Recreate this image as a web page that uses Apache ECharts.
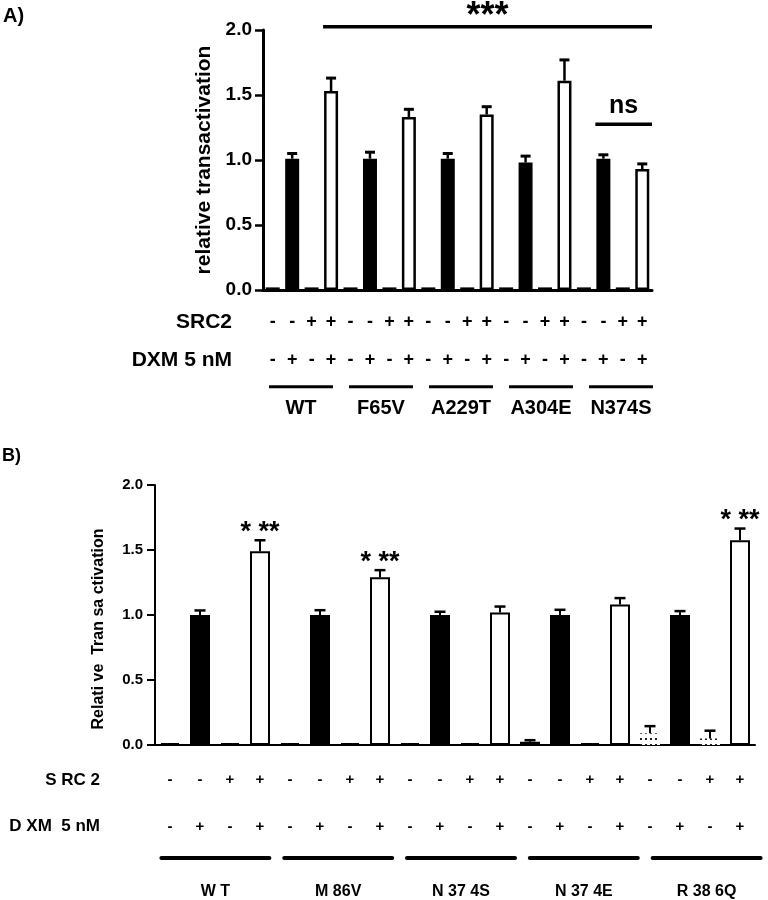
<!DOCTYPE html>
<html><head><meta charset="utf-8">
<script src="https://cdn.jsdelivr.net/npm/echarts@6/dist/echarts.min.js"></script>
<style>html,body{margin:0;padding:0;background:#fff}#c{width:768px;height:900px}</style>
</head><body><div id="c"></div>
<script>
// ---------- data ----------
const groupsA = ['WT', 'F65V', 'A229T', 'A304E', 'N374S'];
const groupsB = ['W T', 'M 86V', 'N 37 4S', 'N 37 4E', 'R 38 6Q'];
const conditions = ['SRC2- DXM-', 'SRC2- DXM+', 'SRC2+ DXM-', 'SRC2+ DXM+'];
const src2Signs = ['-','-','+','+', '-','-','+','+', '-','-','+','+', '-','-','+','+', '-','-','+','+'];
const dxmSigns  = ['-','+','-','+', '-','+','-','+', '-','+','-','+', '-','+','-','+', '-','+','-','+'];
const yTickLabels = ['0.0', '0.5', '1.0', '1.5', '2.0'];

const valuesA = [0.02, 1.01, 0.02, 1.53,  0.02, 1.01, 0.02, 1.33,  0.02, 1.01, 0.02, 1.35,  0.02, 0.98, 0.02, 1.61,  0.02, 1.01, 0.02, 0.93];
const errA    = [0,    0.04, 0,    0.10,  0,    0.05, 0,    0.06,  0,    0.04, 0,    0.06,  0,    0.05, 0,    0.16,  0,    0.03, 0,    0.04];
const sigA = [
  { text: '***', from: 3,  to: 19, level: 2.025 },
  { text: 'ns',  from: 17, to: 19, level: 1.275 }
];

const valuesB = [0.015, 1.00, 0.015, 1.49,  0.015, 1.00, 0.015, 1.29,  0.015, 1.00, 0.015, 1.02,  0.025, 1.00, 0.015, 1.08,  0.09, 1.00, 0.05, 1.575];
const errB    = [0,     0.035, 0,    0.085, 0,     0.037, 0,    0.055, 0,     0.025, 0,    0.045, 0.012, 0.04, 0,     0.05,  0.055, 0.03, 0.06, 0.09];
const sigB    = ['', '', '', '* **',  '', '', '', '* **',  '', '', '', '',  '', '', '', '',  '', '', '', '* **'];

// ---------- derived ----------
const catsA = groupsA.flatMap(g => conditions.map(c => g + ' ' + c));
const catsB = groupsB.flatMap(g => conditions.map(c => g + ' ' + c));
const FONT = 'Liberation Sans, Arial, Helvetica, sans-serif';
const dottedB = [16, 18];

function barData(vals, bw, dotted) {
  return vals.map((v, i) => {
    let st;
    if (dotted && dotted.indexOf(i) >= 0) st = { color: '#fff', borderWidth: 0,
      decal: { symbol: 'rect', symbolSize: 1, color: '#222', backgroundColor: '#fff', dashArrayX: [2, 3], dashArrayY: [2, 4] } };
    else if (i % 4 === 1) st = { color: '#000', borderColor: '#000', borderWidth: bw };
    else st = { color: '#fff', borderColor: '#000', borderWidth: bw };
    return { value: v, itemStyle: st };
  });
}

function errRender(capW, lw, sigs, sigFont, sigGap) {
  return function (params, api) {
    const x = api.value(0), v = api.value(1), e = api.value(2);
    const p0 = api.coord([x, v]);
    const p1 = api.coord([x, v + e]);
    const ch = [];
    if (e > 0) {
      ch.push({ type: 'line', shape: { x1: p0[0], y1: p0[1], x2: p1[0], y2: p1[1] }, style: { stroke: '#000', lineWidth: lw } });
      ch.push({ type: 'line', shape: { x1: p1[0] - capW / 2, y1: p1[1], x2: p1[0] + capW / 2, y2: p1[1] }, style: { stroke: '#000', lineWidth: lw + 0.5 } });
    }
    const s = sigs ? sigs[params.dataIndex] : '';
    if (s) {
      ch.push({ type: 'text', style: { text: s, x: p1[0], y: p1[1] - sigGap, align: 'center', verticalAlign: 'middle', font: 'bold ' + sigFont + 'px ' + FONT, fill: '#000' } });
    }
    return { type: 'group', children: ch };
  };
}

const signAxis = (grid, data, offset, name, nameGap, fs, nfs) => ({
  type: 'category', gridIndex: grid, data: data, position: 'bottom', offset: offset,
  axisLine: { show: false }, axisTick: { show: false },
  axisLabel: { interval: 0, margin: 0, verticalAlign: 'middle', fontSize: fs, fontWeight: 'bold', color: '#000', fontFamily: FONT },
  name: name, nameLocation: 'start', nameGap: nameGap,
  nameTextStyle: { fontSize: nfs, fontWeight: 'bold', color: '#000', fontFamily: FONT, verticalAlign: 'middle' }
});

const chart = echarts.init(document.getElementById('c'), null, { renderer: 'canvas' });
const option = {
  animation: false,
  backgroundColor: '#fff',
  textStyle: { fontFamily: FONT },
  grid: [
    { left: 263, top: 30, width: 389, height: 260 },
    { left: 155, top: 485, width: 600, height: 260 },
    { left: 261, top: 30, width: 400, height: 260 },
    { left: 154, top: 485, width: 620, height: 260 }
  ],
  xAxis: [
    { type: 'category', gridIndex: 0, data: catsA,
      axisLine: { lineStyle: { color: '#000', width: 3 } },
      axisTick: { alignWithLabel: true, interval: 0, length: 9, lineStyle: { color: '#000', width: 2.5 } },
      axisLabel: { show: false } },
    signAxis(0, src2Signs, 32, 'SRC2', 31, 18, 21),
    signAxis(0, dxmSigns, 70, 'DXM 5 nM', 31, 18, 21),
    { type: 'category', gridIndex: 2, data: groupsA, position: 'bottom', offset: 118,
      axisLine: { show: false }, axisTick: { show: false },
      axisLabel: { interval: 0, margin: 0, verticalAlign: 'middle', fontSize: 20, fontWeight: 'bold', color: '#000', fontFamily: FONT } },
    { type: 'category', gridIndex: 1, data: catsB,
      axisLine: { lineStyle: { color: '#000', width: 2 } },
      axisTick: { alignWithLabel: true, interval: 0, length: 8, lineStyle: { color: '#000', width: 2 } },
      axisLabel: { show: false } },
    signAxis(1, src2Signs, 35, 'S RC 2', 55, 15, 17),
    signAxis(1, dxmSigns, 81.5, 'D XM  5 nM', 55, 15, 17),
    { type: 'category', gridIndex: 3, data: groupsB, position: 'bottom', offset: 146.5,
      axisLine: { show: false }, axisTick: { show: false },
      axisLabel: { interval: 0, margin: 0, verticalAlign: 'middle', fontSize: 16, fontWeight: 'bold', color: '#000', fontFamily: FONT } }
  ],
  yAxis: [
    { type: 'value', gridIndex: 0, min: 0, max: 2, interval: 0.5,
      axisLine: { show: true, lineStyle: { color: '#000', width: 3 } },
      axisTick: { show: true, length: 8, lineStyle: { color: '#000', width: 2.5 } },
      splitLine: { show: false },
      axisLabel: { margin: 11, fontSize: 19, fontWeight: 'bold', color: '#000', fontFamily: FONT, formatter: (v) => yTickLabels[Math.round(v / 0.5)] },
      name: 'relative transactivation', nameLocation: 'middle', nameGap: 44,
      nameTextStyle: { fontSize: 21, fontWeight: 'bold', color: '#000', fontFamily: FONT } },
    { type: 'value', gridIndex: 1, min: 0, max: 2, interval: 0.5,
      axisLine: { show: true, lineStyle: { color: '#000', width: 2 } },
      axisTick: { show: true, length: 8, lineStyle: { color: '#000', width: 2 } },
      splitLine: { show: false },
      axisLabel: { margin: 12, fontSize: 15, fontWeight: 'bold', color: '#000', fontFamily: FONT, formatter: (v) => yTickLabels[Math.round(v / 0.5)] },
      name: 'Relati ve  Tran sa ctivation', nameLocation: 'middle', nameGap: 48,
      nameTextStyle: { fontSize: 16, fontWeight: 'bold', color: '#000', fontFamily: FONT, padding: [0, 28, 0, 0] } },
    { type: 'value', gridIndex: 2, show: false, min: 0, max: 2 },
    { type: 'value', gridIndex: 3, show: false, min: 0, max: 2 }
  ],
  series: [
    { type: 'bar', xAxisIndex: 0, yAxisIndex: 0, barWidth: 14, data: barData(valuesA, 2.5, null), z: 2 },
    { type: 'custom', xAxisIndex: 0, yAxisIndex: 0, z: 3,
      data: valuesA.map((v, i) => [i, v, errA[i]]),
      renderItem: errRender(10, 2.5, null, 0, 0) },
    { type: 'bar', xAxisIndex: 4, yAxisIndex: 1, barWidth: 20, data: barData(valuesB, 2, dottedB), z: 2 },
    { type: 'custom', xAxisIndex: 4, yAxisIndex: 1, z: 3,
      data: valuesB.map((v, i) => [i, v, errB[i]]),
      renderItem: errRender(11, 2, sigB, 27, 8) }
  ]
};
chart.setOption(option);

// ---------- annotations positioned through the axes ----------
const gfx = [];
gfx.push({ type: 'text', left: 3, top: 6, style: { text: 'A)', font: 'bold 20px ' + FONT, fill: '#000' } });
gfx.push({ type: 'text', left: 2, top: 447, style: { text: 'B)', font: 'bold 18px ' + FONT, fill: '#000' } });

const bandA = chart.convertToPixel({ xAxisIndex: 0 }, catsA[1]) - chart.convertToPixel({ xAxisIndex: 0 }, catsA[0]);
sigA.forEach(s => {
  const x1 = chart.convertToPixel({ xAxisIndex: 0 }, catsA[s.from]) - 8;
  const x2 = chart.convertToPixel({ xAxisIndex: 0 }, catsA[s.to]) + bandA / 2;
  const y = chart.convertToPixel({ yAxisIndex: 0 }, s.level);
  gfx.push({ type: 'line', shape: { x1: x1, y1: y, x2: x2, y2: y }, style: { stroke: '#000', lineWidth: 3.5 } });
  const big = s.text === '***';
  gfx.push({ type: 'text', x: (x1 + x2) / 2, y: y - (big ? 10 : 18),
    style: { text: s.text, align: 'center', verticalAlign: 'middle', font: 'bold ' + (big ? 36 : 25) + 'px ' + FONT, fill: '#000' } });
});

const baseA = chart.convertToPixel({ yAxisIndex: 0 }, 0);
groupsA.forEach(g => {
  const cx = chart.convertToPixel({ xAxisIndex: 3 }, g);
  gfx.push({ type: 'line', shape: { x1: cx - 32, y1: baseA + 96.7, x2: cx + 32, y2: baseA + 96.7 }, style: { stroke: '#000', lineWidth: 3 } });
});
const baseB = chart.convertToPixel({ yAxisIndex: 1 }, 0);
groupsB.forEach(g => {
  const cx = chart.convertToPixel({ xAxisIndex: 7 }, g);
  gfx.push({ type: 'line', shape: { x1: cx - 54, y1: baseB + 113, x2: cx + 54, y2: baseB + 113 }, style: { stroke: '#000', lineWidth: 4, lineCap: 'round' } });
});
chart.setOption({ graphic: gfx });
</script>
</body></html>
